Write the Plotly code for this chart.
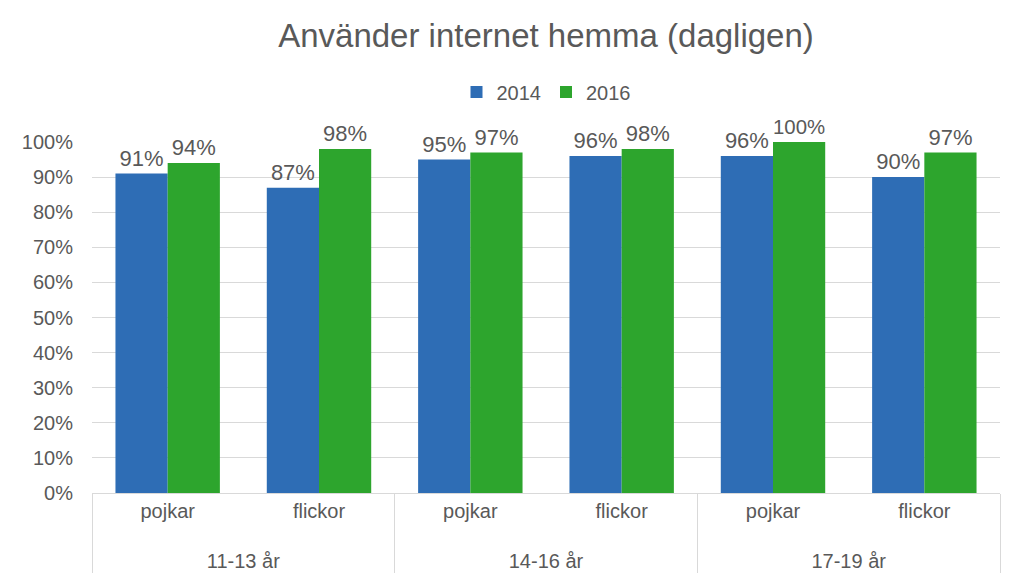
import plotly.graph_objects as go

age_groups = ["11-13 år", "11-13 år", "14-16 år", "14-16 år", "17-19 år", "17-19 år"]
genders = ["pojkar", "flickor", "pojkar", "flickor", "pojkar", "flickor"]
values_2014 = [91, 87, 95, 96, 96, 90]
values_2016 = [94, 98, 97, 98, 100, 97]

font_family = "Arial, Liberation Sans, sans-serif"
grey = "#595959"

# extra blank line pushes the outer category level down, like the original layout
age_display = ["<br>" + a for a in age_groups]

fig = go.Figure()
for name, vals, color in [("2014", values_2014, "#2E6DB5"), ("2016", values_2016, "#2DA52D")]:
    fig.add_trace(go.Bar(
        name=name,
        x=[age_display, genders],
        y=[v / 100 for v in vals],
        marker=dict(color=color, line=dict(width=0)),
        text=[f"{v}%" for v in vals],
        textposition="outside",
        textfont=dict(size=22, color=grey, family=font_family),
        cliponaxis=False,
    ))

fig.update_layout(
    width=1004, height=567,
    margin=dict(l=84, r=12, t=134, b=82, autoexpand=False),
    paper_bgcolor="white", plot_bgcolor="white",
    barmode="group", bargap=0.31, bargroupgap=0,
    title=dict(text="Använder internet hemma (dagligen)", x=0.5, xanchor="center",
               xref="paper", y=1 - 27 / 567, yanchor="middle", yref="container",
               font=dict(size=33, color=grey, family=font_family)),
    legend=dict(orientation="h", x=0.5, xanchor="center", y=1 + 50 / 351, yanchor="middle",
                font=dict(size=20, color=grey, family=font_family),
                itemwidth=30, traceorder="normal"),
    font=dict(family=font_family, color=grey),
)
fig.update_yaxes(range=[0, 1], dtick=0.1, tickformat=".0%",
                 showgrid=True, gridcolor="#D9D9D9", gridwidth=1,
                 zeroline=False, showline=False,
                 tickfont=dict(size=20, color=grey, family=font_family),
                 ticks="outside", ticklen=14, tickcolor="rgba(0,0,0,0)")
fig.update_xaxes(type="multicategory", showline=True, linecolor="#D9D9D9", linewidth=1,
                 showdividers=True, dividercolor="#D9D9D9", dividerwidth=1,
                 tickfont=dict(size=20, color=grey, family=font_family),
                 ticks="")

fig.write_html("out.html")
